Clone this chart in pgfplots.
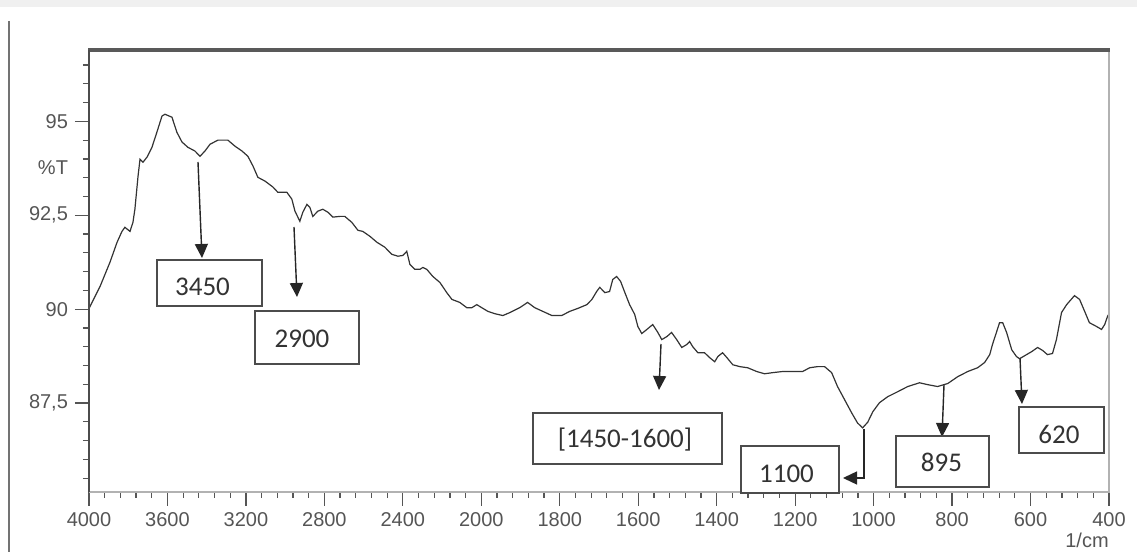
\documentclass[border=0pt]{standalone}
\usepackage{pgfplots}
\pgfplotsset{compat=1.18}
\usepackage{pgfplotstable}
\usepackage{fontspec}
\setmainfont{Liberation Sans}
\newfontfamily\calib{Carlito}
\usetikzlibrary{arrows.meta}
\definecolor{axgrey}{HTML}{555555}

\pgfplotstableread{
w T
4000 90.02
3944 90.60
3893 91.25
3857 91.78
3832 92.07
3817 92.18
3791 92.07
3776 92.31
3766 92.66
3750 93.54
3740 93.99
3725 93.91
3704 94.05
3679 94.31
3654 94.71
3628 95.14
3613 95.19
3577 95.11
3552 94.71
3526 94.45
3496 94.31
3460 94.21
3434 94.07
3409 94.21
3383 94.39
3343 94.50
3292 94.50
3256 94.34
3220 94.21
3190 94.07
3164 93.81
3139 93.51
3103 93.41
3062 93.25
3037 93.11
2991 93.11
2966 92.93
2950 92.61
2925 92.34
2910 92.58
2889 92.79
2874 92.71
2859 92.47
2833 92.61
2808 92.66
2782 92.58
2757 92.45
2721 92.47
2696 92.47
2660 92.31
2629 92.10
2604 92.07
2568 91.94
2532 91.78
2492 91.65
2456 91.46
2425 91.41
2400 91.43
2380 91.54
2364 91.19
2339 91.06
2313 91.06
2298 91.11
2278 91.06
2247 90.87
2211 90.71
2176 90.44
2150 90.26
2120 90.20
2110 90.18
2074 90.04
2048 90.04
2023 90.12
1999 90.04
1983 89.94
1966 89.88
1945 89.83
1927 89.91
1902 90.04
1882 90.18
1864 90.04
1843 89.94
1820 89.83
1795 89.83
1775 89.94
1754 90.02
1731 90.12
1718 90.26
1706 90.47
1698 90.58
1685 90.44
1673 90.47
1665 90.79
1655 90.87
1645 90.74
1634 90.44
1622 90.12
1609 89.86
1601 89.54
1591 89.35
1578 89.46
1563 89.59
1550 89.38
1540 89.19
1527 89.27
1515 89.38
1502 89.19
1489 88.98
1476 89.06
1469 89.14
1461 89.00
1448 88.84
1431 88.84
1418 88.71
1405 88.60
1397 88.74
1385 88.84
1374 88.71
1359 88.52
1341 88.47
1321 88.44
1298 88.34
1278 88.28
1257 88.31
1232 88.34
1206 88.34
1181 88.34
1163 88.44
1143 88.47
1125 88.47
1107 88.31
1092 87.94
1074 87.59
1056 87.24
1041 86.97
1028 86.84
1015 86.99
1002 87.27
985 87.51
964 87.67
939 87.80
913 87.94
883 88.04
862 87.99
837 87.94
811 88.02
786 88.20
760 88.34
735 88.44
717 88.58
704 88.79
697 89.06
687 89.38
679 89.64
671 89.64
661 89.38
648 88.92
636 88.74
628 88.68
615 88.76
597 88.87
582 88.98
569 88.90
557 88.79
544 88.82
534 89.19
521 89.91
508 90.12
488 90.36
475 90.26
462 89.94
450 89.64
432 89.54
419 89.46
411 89.59
404 89.80
400 89.88
}\spectrum

\begin{document}
\begin{tikzpicture}
\path[use as bounding box] (0,0) rectangle (568.5pt,276pt);
\begin{axis}[at={(44.5pt,30.15pt)}, anchor=south west, scale only axis,
  width=510pt, height=220.85pt,
  xmin=0, xmax=2600, ymin=85.14, ymax=96.9,
  axis line style={draw=none},
  tick pos=left, tick align=outside,
  xtick={0,200,...,2600},
  xticklabels={4000,3600,3200,2800,2400,2000,1800,1600,1400,1200,1000,800,600,400},
  minor x tick num=4,
  ytick={87.5,90,92.5,95},
  yticklabels={{87,5},90,{92,5},95},
  minor ytick={85.5,86,...,96.5},
  major tick length=7pt, minor tick length=3pt,
  every tick/.style={axgrey, line width=0.6pt},
  tick label style={font=\fontsize{10}{12}\selectfont, text=axgrey},
]
\addplot[black!80, line width=0.6pt] table[x expr={(\thisrow{w}>2000)*((4000-\thisrow{w})/2)+(\thisrow{w}<=2000)*(3000-\thisrow{w})}, y=T] {\spectrum};
\end{axis}
\begin{scope}[x=0.5pt,y=-0.5pt,shift={(0pt,276pt)}]
\fill[black!6] (0,0) rectangle (1137,7);
\draw[black!55, line width=1pt] (9,21) -- (9,552);
\draw[black!30, line width=0.6pt] (89,492) -- (1109,492) -- (1109,50);
\draw[black!65, line width=1.6pt] (88,50) -- (1110,50);
\draw[black!70, line width=0.8pt] (89,50) -- (89,492);
\node[font=\fontsize{10}{12}\selectfont, text=axgrey] at (53,168) {\%T};
\node[font=\fontsize{10}{12}\selectfont, text=axgrey] at (1087,540) {1/cm};
\tikzset{lbl/.style={draw=black!70, line width=0.9pt, fill=white},
  arr/.style={black!85, line width=0.7pt, -{Triangle[width=6.5pt,length=7pt]}},
  txt/.style={font=\calib\fontsize{13.5}{16}\selectfont, text=black!80, inner sep=0pt}}
\draw[arr] (198,162) -- (202,258);
\draw[lbl] (157,260) rectangle (262,306);
\node[txt] at (202.5,287) {3450};
\draw[arr] (294,227) -- (297,297);
\draw[lbl] (255,311) rectangle (359,364);
\node[txt] at (302,338.5) {2900};
\draw[arr] (661,344) -- (659,390);
\draw[lbl] (533,413) rectangle (722,464);
\node[txt] at (625,440) {[1450-1600]};
\draw[lbl] (741,446) rectangle (839,493);
\node[txt] at (786.5,474) {1100};
\draw[arr] (864,429) -- (864,478) -- (843,478);
\draw[arr] (944,385) -- (942,437);
\draw[lbl] (896,436) rectangle (989,487);
\node[txt] at (941.5,462) {895};
\draw[arr] (1020,358) -- (1022,404);
\draw[lbl] (1019,407) rectangle (1104,453);
\node[txt] at (1059,434) {620};
\end{scope}
\end{tikzpicture}
\end{document}
